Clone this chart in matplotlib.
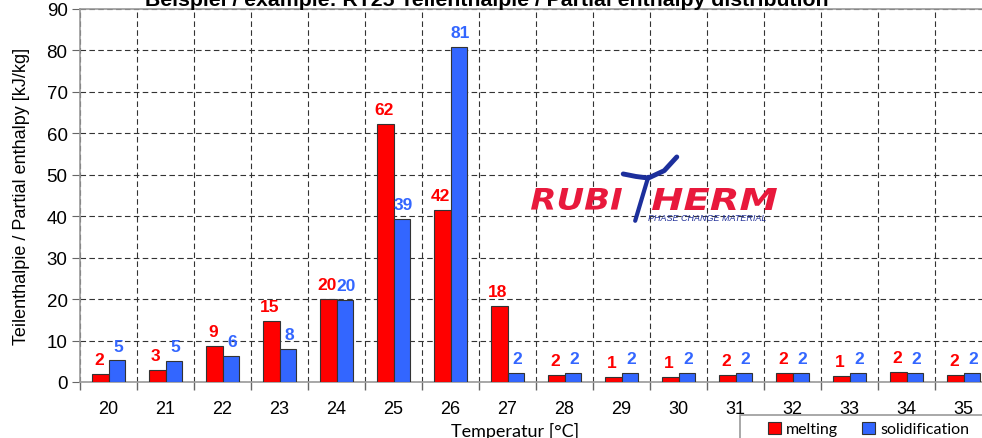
import matplotlib
matplotlib.use('Agg')
import matplotlib.pyplot as plt
from matplotlib.patches import Rectangle, PathPatch
from matplotlib.textpath import TextPath
from matplotlib.font_manager import FontProperties
from matplotlib.transforms import Affine2D
import numpy as np

# Data
temperatures = [20, 21, 22, 23, 24, 25, 26, 27, 28, 29, 30, 31, 32, 33, 34, 35]
melting = [2.0, 3.0, 8.8, 14.7, 20.0, 62.3, 41.6, 18.3, 1.6, 1.3, 1.3, 1.6, 2.2, 1.4, 2.4, 1.8]
solidification = [5.2, 5.0, 6.3, 7.9, 19.7, 39.4, 80.8, 2.1, 2.1, 2.1, 2.1, 2.1, 2.1, 2.1, 2.1, 2.1]

RED = '#ff0000'
BLUE = '#3366ff'
W, H = 982, 439

plt.rcParams['font.family'] = ['Liberation Sans', 'DejaVu Sans']

fig = plt.figure(figsize=(W / 100, H / 100), dpi=100)
ax = fig.add_axes([80 / W, 56 / H, 912 / W, 373 / H])

x = np.arange(len(temperatures))
w = 0.29
b1 = ax.bar(x - w / 2, melting, w, color=RED, edgecolor='#333333', linewidth=0.8,
            label='melting', zorder=3)
b2 = ax.bar(x + w / 2, solidification, w, color=BLUE, edgecolor='#333333', linewidth=0.8,
            label='solidification', zorder=3)

for xi, v in zip(x, melting):
    ax.annotate(f'{v:.0f}', (xi - w / 2, v), xytext=(-1, 5), textcoords='offset points',
                ha='center', va='bottom', color=RED, fontsize=12.5, fontweight='bold')
for xi, v in zip(x, solidification):
    ax.annotate(f'{v:.0f}', (xi + w / 2, v), xytext=(1, 5), textcoords='offset points',
                ha='center', va='bottom', color=BLUE, fontsize=12.5, fontweight='bold')

ax.set_xlim(-0.5, len(temperatures) - 0.5)
ax.set_ylim(0, 90)
ax.set_yticks(range(0, 91, 10))

# category labels in the middle, tick marks on the boundaries
ax.set_xticks(x)
ax.set_xticklabels([str(t) for t in temperatures])
ax.tick_params(axis='x', length=0, pad=13, labelsize=13)
ax.set_xticks(np.arange(-0.5, len(temperatures), 1), minor=True)
ax.tick_params(axis='x', which='minor', length=6, color='#666666', width=1)
ax.tick_params(axis='y', length=6, color='#666666', labelsize=13.5, pad=3)

ax.grid(True, axis='y', which='major', linestyle=(0, (5, 3)), color='#333333', linewidth=0.8)
ax.grid(True, axis='x', which='minor', linestyle=(0, (5, 3)), color='#333333', linewidth=0.8)
ax.set_axisbelow(True)

for side in ['left', 'bottom', 'top']:
    ax.spines[side].set_color('#999999')
    ax.spines[side].set_linewidth(1.2)
ax.spines['right'].set_visible(False)

ax.set_ylabel('Teilenthalpie / Partial enthalpy [kJ/kg]', fontsize=13, labelpad=12)
fig.text(515 / W, 8 / H, 'Temperatur [°C]', ha='center', va='center',
         fontsize=13, family=['Lato', 'DejaVu Sans'])

# the title sits half outside the top edge, as in the original
fig.text(487 / W, 1.0, 'Beispiel / example: RT25 Teilenthalpie / Partial enthalpy distribution',
         ha='center', va='center', fontsize=15.3, fontweight='bold')


# logo: letters stretched into a pixel box (x0, x1, top, bottom measured from the top)
def logo_word(s, x0, x1, top, bottom, color):
    prop = FontProperties(family='DejaVu Sans', weight='bold', style='italic')
    path = TextPath((0, 0), s, size=1, prop=prop)
    ext = path.get_extents()
    sx = (x1 - x0) / ext.width
    sy = (bottom - top) / ext.height
    tr = Affine2D().translate(-ext.x0, -ext.y0).scale(sx, sy).translate(x0, H - bottom)
    fig.patches.append(PathPatch(tr.transform_path(path), facecolor=color,
                                 edgecolor='none', transform=None, zorder=6))


logo_red = '#e8193c'
logo_blue = '#1c2f9c'
logo_word('RUBI', 531, 622, 189, 211, logo_red)
logo_word('HERM', 652, 777, 189, 211, logo_red)
ax.text(10.5, 39.6, 'PHASE CHANGE MATERIAL', ha='center', va='center', color='#22319a',
        fontsize=6.5, style='italic', zorder=4)
ax.plot([9.03, 9.25, 9.47, 9.75, 9.97], [50.2, 49.6, 49.2, 51.0, 54.3],
        color=logo_blue, linewidth=3.5, solid_capstyle='round', zorder=5)
ax.plot([9.47, 9.24], [49.5, 38.9], color=logo_blue, linewidth=3, solid_capstyle='round', zorder=5)

# legend with a frame that runs off the figure edge, as in the original
fig.patches.append(Rectangle((740 / W, -0.1), 0.4, (H - 416) / H + 0.1,
                             transform=fig.transFigure, fill=False,
                             edgecolor='#999999', linewidth=1.2))
leg = fig.legend(handles=[b1, b2], loc='center left', bbox_to_anchor=(768 / W, 9 / H),
                 ncol=2, frameon=False, handlelength=0.8, handleheight=0.8,
                 handletextpad=0.3, columnspacing=1.55, borderpad=0, borderaxespad=0,
                 prop={'family': ['Lato', 'DejaVu Sans'], 'size': 11.5})

fig.savefig('out.png', dpi=100)
